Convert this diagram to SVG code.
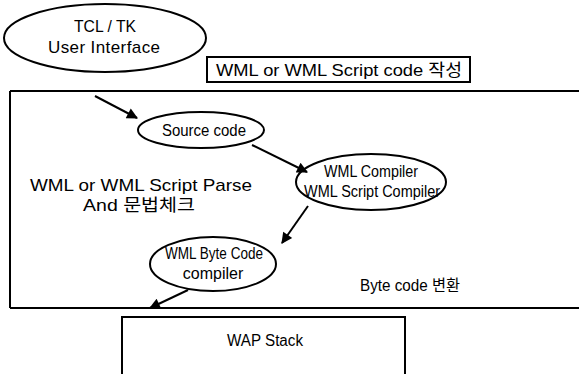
<svg xmlns="http://www.w3.org/2000/svg" width="579" height="374" viewBox="0 0 579 374">
<defs>
<style>
.n{fill:#fff;stroke:#000;stroke-width:2}
.t{font-family:"Liberation Sans","Noto Sans CJK KR",Arial,sans-serif;font-size:17px;fill:#000;text-anchor:middle}
.s{font-size:16px}
.c{stroke:#000;stroke-width:2;fill:none;marker-end:url(#ah)}
</style>
<marker id="ah" viewBox="0 0 10 10" refX="9" refY="5" markerWidth="7" markerHeight="5.5" orient="auto" markerUnits="strokeWidth">
<path d="M0,0 L10,5 L0,10 z" fill="#000"/>
</marker>
</defs>
<rect width="579" height="374" fill="#fff"/>
<g id="frame">
<path d="M10,91 H579 M10,91 V308 M10,308 H579" stroke="#000" stroke-width="2" fill="none"/>
</g>
<g id="tcl">
<ellipse class="n" cx="105" cy="38" rx="101" ry="34"/>
<text class="t" x="105" y="32" textLength="62" lengthAdjust="spacingAndGlyphs">TCL / TK</text>
<text class="t" x="104" y="53" textLength="112" lengthAdjust="spacing">User Interface</text>
</g>
<g id="write">
<rect class="n" x="207" y="57" width="263" height="25"/>
<text class="t" x="339" y="76" textLength="246" lengthAdjust="spacingAndGlyphs">WML or WML Script code 작성</text>
</g>
<g id="source">
<ellipse class="n" cx="201" cy="130" rx="63" ry="18"/>
<text class="t s" x="204" y="136" textLength="84" lengthAdjust="spacingAndGlyphs">Source code</text>
</g>
<g id="parse">
<text class="t" x="141" y="191" textLength="222" lengthAdjust="spacingAndGlyphs">WML or WML Script Parse</text>
<text class="t" x="139" y="211" textLength="112" lengthAdjust="spacingAndGlyphs">And 문법체크</text>
</g>
<g id="compiler">
<ellipse class="n" cx="371" cy="182" rx="75" ry="28"/>
<text class="t s" x="371" y="177" textLength="94" lengthAdjust="spacingAndGlyphs">WML Compiler</text>
<text class="t s" x="372" y="197" textLength="136" lengthAdjust="spacingAndGlyphs">WML Script Compiler</text>
</g>
<g id="bytecode">
<ellipse class="n" cx="213" cy="264" rx="63" ry="27"/>
<text class="t s" x="214" y="259" textLength="98" lengthAdjust="spacingAndGlyphs">WML Byte Code</text>
<text class="t s" x="213" y="279">compiler</text>
</g>
<g id="convert">
<text class="t s" x="410" y="291" textLength="100" lengthAdjust="spacingAndGlyphs">Byte code 변환</text>
</g>
<g id="wap">
<path d="M122,374 V317 H405 V374" class="n"/>
<text class="t s" x="265" y="346" textLength="76" lengthAdjust="spacingAndGlyphs">WAP Stack</text>
</g>
<g id="connectors">
<line class="c" x1="95" y1="96" x2="137" y2="118"/>
<line class="c" x1="252" y1="145" x2="307" y2="172"/>
<line class="c" x1="308" y1="206" x2="282" y2="243"/>
<line class="c" x1="188" y1="290" x2="150" y2="308"/>
</g>
</svg>
